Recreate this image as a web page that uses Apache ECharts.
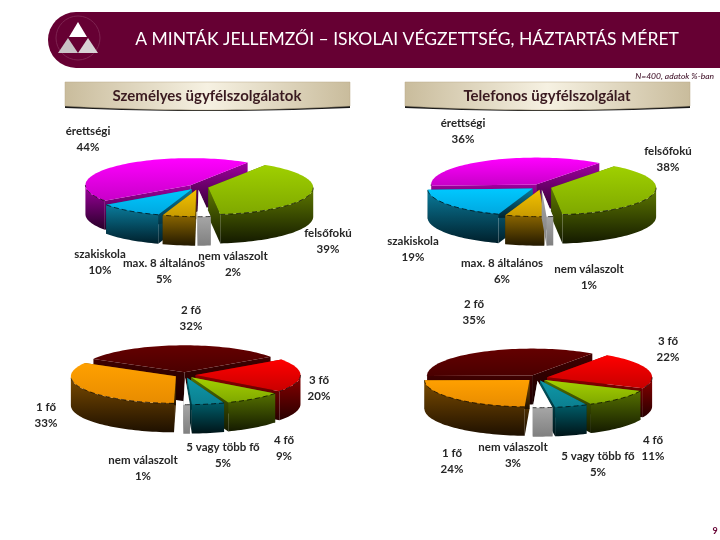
<!DOCTYPE html>
<html lang="hu">
<head>
    <meta charset="UTF-8">
    <title>A minták jellemzői</title>
    <script src="https://cdn.jsdelivr.net/npm/echarts@6/dist/echarts.min.js"></script>
    <style>
        * { margin: 0; padding: 0; }
        body { background: #fff; }
        #chart { width: 720px; height: 540px; }
    </style>
</head>
<body>
    <div id="chart"></div>
    <script>
        // Data (shares in %, clockwise from the first slice)
        const eduCategories = ['felsőfokú', 'nem válaszolt', 'max. 8 általános', 'szakiskola', 'érettségi'];
        const eduPersonal = [39, 2, 5, 10, 44];
        const eduPhone = [38, 1, 6, 19, 36];
        const homeCategories = ['3 fő', '4 fő', '5 vagy több fő', 'nem válaszolt', '1 fő', '2 fő'];
        const homePersonal = [20, 9, 5, 1, 33, 32];
        const homePhone = [22, 11, 5, 3, 24, 35];

        // Slice colours: [top light, top dark, side light, side dark]
        const eduColors = [
            ['#9fd000', '#7fa800', '#5f7a00', '#141a00'],
            ['#ffffff', '#ffffff', '#a6a6a6', '#808080'],
            ['#f2c200', '#c89a00', '#8a6500', '#241a00'],
            ['#00c8ff', '#00a8e0', '#0a7c9c', '#00202c'],
            ['#ff00ff', '#c800c8', '#a000a0', '#280028']
        ];
        const homeColors = [
            ['#ff0000', '#c80000', '#8c0000', '#280000'],
            ['#a6d000', '#7fa800', '#557000', '#141a00'],
            ['#0f98a8', '#0b7f90', '#005c68', '#001418'],
            ['#ffffff', '#ffffff', '#a6a6a6', '#808080'],
            ['#ffa000', '#e88c00', '#7c4c00', '#1e1000'],
            ['#640000', '#4a0000', '#400000', '#180000']
        ];

        // Layout of the four pies and of their labels (label centre x, y)
        const RX = 105, RY = 27, DEPTH = 29, EXPLODE = 0.1;
        const pies = [
            { cx: 198, cy: 187, start: 33, cats: eduCategories, vals: eduPersonal, colors: eduColors,
              labels: [[328, 241], [233, 264], [164, 271], [100, 262], [88, 139]] },
            { cx: 541, cy: 187, start: 37, cats: eduCategories, vals: eduPhone, colors: eduColors,
              labels: [[668, 159], [589, 277], [502, 271], [413, 249], [463, 131]] },
            { cx: 185, cy: 375, start: 55, cats: homeCategories, vals: homePersonal, colors: homeColors,
              labels: [[319, 388], [284, 448], [223, 455], [143, 468], [46, 415], [191, 318]] },
            { cx: 537, cy: 378, start: 35, cats: homeCategories, vals: homePhone, colors: homeColors,
              labels: [[668, 349], [653, 448], [598, 464], [513, 455], [452, 461], [474, 312]] }
        ];

        const LABEL_FONT = 'bold 11.5px Lato, sans-serif';

        function grad(c1, c2) {
            return new echarts.graphic.LinearGradient(0, 0, 0, 1, [
                { offset: 0, color: c1 },
                { offset: 1, color: c2 }
            ]);
        }

        // One custom series per pie: slice angles come from the values
        function pieSeries(pie) {
            const total = pie.vals.reduce((a, b) => a + b, 0);
            let acc = pie.start;
            const slices = pie.vals.map(v => {
                const from = acc;
                acc += v / total * 360;
                return { from: from, to: acc };
            });
            // back slices are painted first
            const order = slices
                .map((s, i) => ({ i: i, depth: -Math.cos((s.from + s.to) / 2 * Math.PI / 180) }))
                .sort((a, b) => a.depth - b.depth)
                .map(o => o.i);

            return {
                type: 'custom',
                coordinateSystem: 'none',
                silent: true,
                clip: false,
                data: pie.vals.map((v, i) => [i, v]),
                renderItem: function (params, api) {
                    const i = api.value(0);
                    const s = slices[i];
                    const col = pie.colors[i];
                    const rank = order.indexOf(i) * 10 + 10;
                    const mid = (s.from + s.to) / 2 * Math.PI / 180;
                    const ox = pie.cx + RX * EXPLODE * Math.sin(mid);
                    const oy = pie.cy - RY * EXPLODE * Math.cos(mid);
                    const pt = function (deg, down) {
                        const a = deg * Math.PI / 180;
                        return [ox + RX * Math.sin(a), oy - RY * Math.cos(a) + (down || 0)];
                    };
                    const arc = function (a, b, down) {
                        const pts = [];
                        const n = Math.max(2, Math.ceil(Math.abs(b - a) / 2));
                        for (let k = 0; k <= n; k++) {
                            pts.push(pt(a + (b - a) * k / n, down));
                        }
                        return pts;
                    };
                    const poly = function (points, fill, z) {
                        return { type: 'polygon', shape: { points: points }, style: { fill: fill }, z2: rank + z };
                    };
                    const apex = [ox, oy];
                    const apexDown = [ox, oy + DEPTH];
                    const children = [];

                    // cut faces
                    [s.from, s.to].forEach(function (deg) {
                        const a = pt(deg), b = pt(deg, DEPTH);
                        children.push(poly([apex, a, b, apexDown], grad(col[2], col[3]), 0));
                    });

                    // outer wall: only the front half of the rim shows
                    const ranges = [[90, 270], [450, 630]];
                    const dashes = [];
                    ranges.forEach(function (r) {
                        const a = Math.max(s.from, r[0]), b = Math.min(s.to, r[1]);
                        if (b > a) {
                            const top = arc(a, b);
                            const bottom = arc(b, a, DEPTH);
                            children.push(poly(top.concat(bottom), grad(col[2], col[3]), 1));
                            dashes.push(top);
                        }
                    });

                    // top face
                    children.push(poly([apex].concat(arc(s.from, s.to)), grad(col[0], col[1]), 2));
                    dashes.forEach(function (top) {
                        children.push({
                            type: 'polyline',
                            shape: { points: top },
                            style: { fill: null, stroke: '#000', lineWidth: 0.7, lineDash: [5, 3] },
                            z2: rank + 3
                        });
                    });

                    // label
                    children.push({
                        type: 'text',
                        z2: 200,
                        style: {
                            x: pie.labels[i][0],
                            y: pie.labels[i][1],
                            text: pie.cats[i] + '\n' + api.value(1) + '%',
                            font: LABEL_FONT,
                            fill: '#262626',
                            align: 'center',
                            verticalAlign: 'middle',
                            lineHeight: 16
                        }
                    });
                    return { type: 'group', children: children };
                }
            };
        }

        // Tan plate with a slightly bulging lower edge
        function plate(x, y, w, h, bulge) {
            const pts = [[x, y], [x + w, y]];
            for (let k = 0; k <= 20; k++) {
                const t = k / 20;
                pts.push([x + w - w * t, y + h + bulge * 4 * t * (1 - t)]);
            }
            return pts;
        }

        function headerCard(x, text) {
            return [
                { type: 'polygon', shape: { points: plate(x, 84, 285, 24, 3) }, style: { fill: '#1a1a1a' } },
                {
                    type: 'polygon',
                    shape: { points: plate(x, 82, 285, 24, 4) },
                    style: {
                        fill: new echarts.graphic.LinearGradient(0, 0, 1, 0, [
                            { offset: 0, color: '#c9bc9c' },
                            { offset: 0.5, color: '#f6f1e2' },
                            { offset: 1, color: '#c9bc9c' }
                        ]),
                        stroke: '#b8ab8a',
                        lineWidth: 0.5
                    }
                },
                {
                    type: 'text',
                    style: {
                        x: x + 142, y: 96, text: text,
                        font: 'bold 15px Lato, sans-serif',
                        fill: '#3a1a20', align: 'center', verticalAlign: 'middle'
                    }
                }
            ];
        }

        const graphics = [
            // title band
            { type: 'rect', shape: { x: 48, y: 12, width: 672, height: 56, r: [28, 0, 0, 28] }, style: { fill: '#660033' } },
            { type: 'circle', shape: { cx: 78, cy: 38, r: 22 }, style: { fill: 'none', stroke: '#7d2350', lineWidth: 1 } },
            { type: 'polygon', shape: { points: [[78, 22], [87, 37], [69, 37]] }, style: { fill: '#ffffff' } },
            { type: 'polygon', shape: { points: [[68, 38], [78, 53], [58, 53]] }, style: { fill: '#c9c3c6' } },
            { type: 'polygon', shape: { points: [[88, 38], [98, 53], [78, 53]] }, style: { fill: '#d8d3d5' } },
            {
                type: 'text',
                style: {
                    x: 407, y: 39, text: 'A MINTÁK JELLEMZŐI – ISKOLAI VÉGZETTSÉG, HÁZTARTÁS MÉRET',
                    font: '17.5px Lato, sans-serif', fill: '#ffffff', align: 'center', verticalAlign: 'middle'
                }
            },
            {
                type: 'text',
                style: {
                    x: 714, y: 76, text: 'N=400, adatok %-ban',
                    font: 'italic 8.5px Lato, sans-serif', fill: '#33001a', align: 'right', verticalAlign: 'middle'
                }
            },
            {
                type: 'text',
                style: {
                    x: 715, y: 531, text: '9',
                    font: 'bold 9px Lato, sans-serif', fill: '#660033', align: 'center', verticalAlign: 'middle'
                }
            }
        ].concat(headerCard(65, 'Személyes ügyfélszolgálatok'), headerCard(405, 'Telefonos ügyfélszolgálat'));

        const chart = echarts.init(document.getElementById('chart'));
        chart.setOption({
            animation: false,
            backgroundColor: '#ffffff',
            graphic: graphics,
            series: pies.map(pieSeries)
        });
    </script>
</body>
</html>
